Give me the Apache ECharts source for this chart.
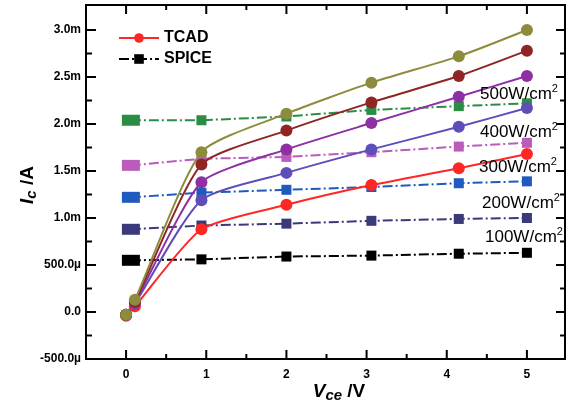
<!DOCTYPE html>
<html>
<head>
<meta charset="utf-8">
<script src="https://cdn.jsdelivr.net/npm/echarts@6/dist/echarts.min.js"></script>
<style>html,body{margin:0;padding:0;background:#fff;}#c{width:570px;height:410px;}</style>
</head>
<body>
<div id="c"></div>
<script>
// ---- data (currents in mA, voltages in V) ----
const X_TCAD = [0, 0.11, 0.94, 2, 3.06, 4.15, 5];
const TCAD_500 = [-0.03, 0.13, 1.70, 2.11, 2.44, 2.72, 3.00];
const TCAD_400 = [-0.03, 0.11, 1.57, 1.93, 2.23, 2.51, 2.78];
const TCAD_300 = [-0.03, 0.10, 1.38, 1.73, 2.01, 2.29, 2.51];
const TCAD_200 = [-0.03, 0.09, 1.19, 1.48, 1.73, 1.97, 2.17];
const TCAD_100 = [-0.04, 0.06, 0.88, 1.14, 1.35, 1.53, 1.68];

const X_SPICE = [0.06, 0.94, 2, 3.06, 4.15, 5];
const SPICE_500 = [2.04, 2.04, 2.08, 2.15, 2.19, 2.22];
const SPICE_400 = [1.56, 1.63, 1.65, 1.70, 1.76, 1.80];
const SPICE_300 = [1.22, 1.27, 1.30, 1.33, 1.37, 1.39];
const SPICE_200 = [0.88, 0.92, 0.94, 0.97, 0.99, 1.00];
const SPICE_100 = [0.55, 0.56, 0.59, 0.60, 0.62, 0.63];

// tick values / labels
const X_MAJOR = [0, 1, 2, 3, 4, 5];
const X_MINOR = [0.5, 1.5, 2.5, 3.5, 4.5];
const Y_MAJOR = [-0.5, 0, 0.5, 1.0, 1.5, 2.0, 2.5, 3.0];
const Y_LABELS = ['-500.0\u00b5', '0.0', '500.0\u00b5', '1.0m', '1.5m', '2.0m', '2.5m', '3.0m'];
const Y_MINOR = [-0.25, 0.25, 0.75, 1.25, 1.75, 2.25, 2.75];
const POWER_LABELS = ['500', '400', '300', '200', '100'];

const X_MIN = -0.5, X_MAX = 5.475, Y_MIN = -0.5, Y_MAX = 3.266;
const FONT = '"Liberation Sans", Arial, sans-serif';
const MAJOR_LEN = 9, MINOR_LEN = 5;

function pairs(xs, ys) { return xs.map((x, i) => [x, ys[i]]); }

function tcad(name, ys, color) {
  return {
    name: name, type: 'line', data: pairs(X_TCAD, ys),
    smooth: 0.2, symbol: 'circle', symbolSize: 12,
    lineStyle: { color: color, width: 2 }, itemStyle: { color: color },
    z: 3
  };
}
function spice(name, ys, color) {
  const d = pairs(X_SPICE, ys).map((p, i) => i === 0 ? { value: p, symbolSize: [18, 11] } : { value: p });
  return {
    name: name, type: 'line', data: d,
    symbol: 'rect', symbolSize: 10,
    lineStyle: { color: color, width: 2, type: [10, 3, 2, 3] }, itemStyle: { color: color },
    z: 2
  };
}

const chart = echarts.init(document.getElementById('c'), null, { renderer: 'canvas' });
chart.setOption({
  animation: false,
  grid: { left: 86, right: 5, top: 5, bottom: 51, show: true, borderColor: '#000', borderWidth: 2, backgroundColor: 'transparent' },
  legend: {
    data: ['TCAD', 'SPICE'], orient: 'vertical', left: 113, top: 25,
    itemWidth: 40, itemHeight: 12, itemGap: 5,
    textStyle: { fontFamily: FONT, fontWeight: 'bold', fontSize: 16, lineHeight: 16, color: '#000' }
  },
  xAxis: {
    type: 'value', min: X_MIN, max: X_MAX,
    axisLine: { show: true, onZero: false, lineStyle: { color: '#000', width: 2 } },
    axisTick: { show: false },
    axisLabel: { show: true, customValues: X_MAJOR, color: '#000', fontFamily: FONT, fontWeight: 'bold', fontSize: 12, margin: 10 },
    splitLine: { show: false }
  },
  yAxis: {
    type: 'value', min: Y_MIN, max: Y_MAX,
    axisLine: { show: true, onZero: false, lineStyle: { color: '#000', width: 2 } },
    axisTick: { show: false },
    axisLabel: {
      show: true, customValues: Y_MAJOR, color: '#000', fontFamily: FONT, fontWeight: 'bold', fontSize: 12, margin: 5,
      formatter: function (v) {
        const i = Y_MAJOR.findIndex(t => Math.abs(t - v) < 1e-9);
        return i >= 0 ? Y_LABELS[i] : '';
      }
    },
    splitLine: { show: false }
  },
  series: [
    spice('S500', SPICE_500, '#2b8c44'),
    spice('S400', SPICE_400, '#bb5cbb'),
    spice('S300', SPICE_300, '#1f5bbf'),
    spice('S200', SPICE_200, '#3a3a7a'),
    spice('SPICE', SPICE_100, '#000000'),
    tcad('TCAD', TCAD_100, '#ff2626'),
    tcad('T200', TCAD_200, '#5f4db9'),
    tcad('T300', TCAD_300, '#8e2fa3'),
    tcad('T400', TCAD_400, '#8f2525'),
    tcad('T500', TCAD_500, '#8c8c3c')
  ]
});

// ---- inward ticks on all four sides (positioned through the chart's own axis scales) and annotations ----
const els = [];
function px(x, y) { return chart.convertToPixel({ xAxisIndex: 0, yAxisIndex: 0 }, [x, y]); }
function tick(x1, y1, x2, y2) {
  els.push({ type: 'line', z: 100, shape: { x1: x1, y1: y1, x2: x2, y2: y2 }, style: { stroke: '#000', lineWidth: 2 } });
}
function addX(v, len) {
  const b = px(v, Y_MIN), t = px(v, Y_MAX);
  tick(b[0], b[1], b[0], b[1] - len);
  tick(t[0], t[1], t[0], t[1] + len);
}
function addY(v, len) {
  const l = px(X_MIN, v), r = px(X_MAX, v);
  tick(l[0], l[1], l[0] + len + 1, l[1]);
  tick(r[0], r[1], r[0] - len, r[1]);
}
X_MAJOR.forEach(v => addX(v, MAJOR_LEN));
X_MINOR.forEach(v => addX(v, MINOR_LEN));
Y_MAJOR.forEach(v => addY(v, MAJOR_LEN));
Y_MINOR.forEach(v => addY(v, MINOR_LEN));

const labelPos = [[480, 94], [480, 132], [479, 167], [482, 203], [485, 237]];
POWER_LABELS.forEach((p, i) => els.push({
  type: 'text', left: labelPos[i][0], top: labelPos[i][1] - 11, z: 100,
  style: {
    text: '{n|' + p + 'W/cm}{s|2}',
    rich: {
      n: { fontSize: 17, fontFamily: FONT, fill: '#000', lineHeight: 22 },
      s: { fontSize: 11, fontFamily: FONT, fill: '#000', lineHeight: 12, verticalAlign: 'top' }
    }
  }
}));
els.push({
  type: 'text', x: 339, y: 392, z: 100,
  style: {
    text: '{v|V}{c|ce}{u| /V}', align: 'center', verticalAlign: 'middle',
    rich: {
      v: { fontSize: 19, fontWeight: 'bold', fontStyle: 'italic', fontFamily: FONT, fill: '#000', lineHeight: 22 },
      c: { fontSize: 15, fontWeight: 'bold', fontStyle: 'italic', fontFamily: FONT, fill: '#000', lineHeight: 12, verticalAlign: 'bottom' },
      u: { fontSize: 19, fontWeight: 'bold', fontFamily: FONT, fill: '#000', lineHeight: 22 }
    }
  }
});
els.push({
  type: 'text', x: 28, y: 185, rotation: Math.PI / 2, z: 100,
  style: {
    text: '{v|I}{c|c}{u| /A}', align: 'center', verticalAlign: 'middle',
    rich: {
      v: { fontSize: 19, fontWeight: 'bold', fontStyle: 'italic', fontFamily: FONT, fill: '#000', lineHeight: 22 },
      c: { fontSize: 15, fontWeight: 'bold', fontStyle: 'italic', fontFamily: FONT, fill: '#000', lineHeight: 12, verticalAlign: 'bottom' },
      u: { fontSize: 19, fontWeight: 'bold', fontFamily: FONT, fill: '#000', lineHeight: 22 }
    }
  }
});
chart.setOption({ graphic: els });
</script>
</body>
</html>
